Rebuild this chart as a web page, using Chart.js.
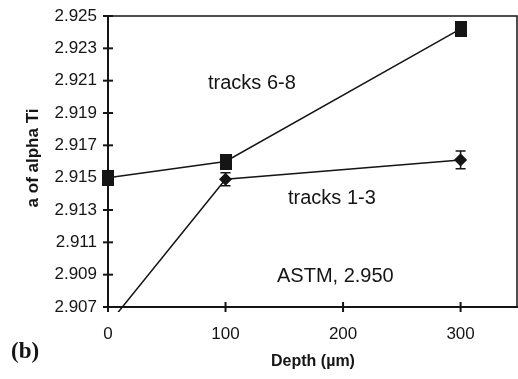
<!DOCTYPE html>
<html>
<head>
<meta charset="utf-8">
<script src="https://cdn.jsdelivr.net/npm/chart.js@4.4.1/dist/chart.umd.min.js"></script>
<style>
  html, body { margin: 0; padding: 0; background: #fff; }
  #wrap { width: 518px; height: 379px; }
</style>
</head>
<body>
<div id="wrap"><canvas id="chart" width="518" height="379"></canvas></div>
<script>
// data
const depth = [0, 100, 300];
const tracks68 = [2.915, 2.916, 2.9242];
const tracks13 = [2.9059, 2.9149, 2.9161];
const err13 = [0, 0.0004, 0.00055];
const xTicks = [0, 100, 200, 300];
const yTicks = [2.907, 2.909, 2.911, 2.913, 2.915, 2.917, 2.919, 2.921, 2.923, 2.925];

const ink = '#151515';

// square marker a bit taller than wide, like the scan
function squareMarker() {
  const c = document.createElement('canvas');
  c.width = 12; c.height = 16;
  const g = c.getContext('2d');
  g.fillStyle = ink;
  g.fillRect(0, 0, 12, 16);
  return c;
}

// cross ticks, frame, error bars and labels
const extras = {
  id: 'extras',
  afterDatasetsDraw(chart) {
    const { ctx, chartArea: a, scales: { x, y } } = chart;
    ctx.save();
    ctx.strokeStyle = ink;
    ctx.lineWidth = 1.5;
    // top and right frame
    ctx.beginPath();
    ctx.moveTo(a.left, a.top);
    ctx.lineTo(a.right, a.top);
    ctx.lineTo(a.right, a.bottom);
    ctx.stroke();

    ctx.lineWidth = 2;
    yTicks.forEach(v => {
      const py = y.getPixelForValue(v);
      ctx.beginPath();
      ctx.moveTo(a.left - 5, py);
      ctx.lineTo(a.left + 5, py);
      ctx.stroke();
    });
    xTicks.forEach(v => {
      const px = x.getPixelForValue(v);
      ctx.beginPath();
      ctx.moveTo(px, a.bottom - 5);
      ctx.lineTo(px, a.bottom + 5);
      ctx.stroke();
    });

    // error bars on tracks 1-3
    ctx.lineWidth = 1.5;
    depth.forEach((d, i) => {
      if (!err13[i]) return;
      const px = x.getPixelForValue(d);
      const top = y.getPixelForValue(tracks13[i] + err13[i]);
      const bot = y.getPixelForValue(tracks13[i] - err13[i]);
      ctx.beginPath();
      ctx.moveTo(px, top); ctx.lineTo(px, bot);
      ctx.moveTo(px - 5, top); ctx.lineTo(px + 5, top);
      ctx.moveTo(px - 5, bot); ctx.lineTo(px + 5, bot);
      ctx.stroke();
    });

    ctx.fillStyle = ink;
    ctx.textBaseline = 'middle';
    ctx.textAlign = 'left';
    ctx.font = '20px "Liberation Sans", Arial, sans-serif';
    ctx.fillText('tracks 6-8', 208, 83);
    ctx.fillText('tracks 1-3', 288, 198);
    ctx.fillText('ASTM, 2.950', 277, 276);

    ctx.textAlign = 'center';
    ctx.font = 'bold 16px "Liberation Sans", Arial, sans-serif';
    ctx.fillText('Depth (\u00b5m)', 313, 362);

    ctx.save();
    ctx.translate(33, 158);
    ctx.rotate(-Math.PI / 2);
    ctx.font = 'bold 17px "Liberation Sans", Arial, sans-serif';
    ctx.fillText('a of alpha Ti', 0, 0);
    ctx.restore();

    ctx.textAlign = 'left';
    ctx.font = 'bold 23px "Liberation Serif", "Times New Roman", serif';
    ctx.fillText('(b)', 11, 352);
    ctx.restore();
  }
};

new Chart(document.getElementById('chart'), {
  type: 'line',
  data: {
    datasets: [
      {
        label: 'tracks 6-8',
        data: depth.map((d, i) => ({ x: d, y: tracks68[i] })),
        borderColor: ink,
        borderWidth: 1.5,
        pointStyle: squareMarker(),
        pointBackgroundColor: ink,
        clip: false
      },
      {
        label: 'tracks 1-3',
        data: depth.map((d, i) => ({ x: d, y: tracks13[i] })),
        borderColor: ink,
        borderWidth: 1.5,
        pointStyle: 'rectRot',
        pointRadius: [0, 5.5, 5.5],
        pointBackgroundColor: ink,
        pointBorderColor: ink,
        clip: { left: 0, top: 0, right: 0, bottom: 5 }
      }
    ]
  },
  options: {
    responsive: false,
    animation: false,
    devicePixelRatio: 1,
    layout: { autoPadding: false, padding: { top: 16, right: 1, left: 0, bottom: 0 } },
    plugins: { legend: { display: false }, tooltip: { enabled: false } },
    scales: {
      x: {
        type: 'linear',
        min: 0,
        max: 348,
        afterBuildTicks: s => { s.ticks = xTicks.map(v => ({ value: v })); },
        afterFit: s => { s.height = 72; s.paddingLeft = 0; s.paddingRight = 0; },
        grid: { display: false, drawTicks: false, tickLength: 0 },
        border: { display: true, color: ink, width: 2 },
        ticks: {
          padding: 17,
          color: ink,
          font: { family: '"Liberation Sans", Arial, sans-serif', size: 17 }
        }
      },
      y: {
        min: 2.907,
        max: 2.925,
        afterBuildTicks: s => { s.ticks = yTicks.map(v => ({ value: v })); },
        afterFit: s => { s.width = 108; s.paddingTop = 0; s.paddingBottom = 0; },
        grid: { display: false, drawTicks: false, tickLength: 0 },
        border: { display: true, color: ink, width: 2 },
        ticks: {
          padding: 11,
          color: ink,
          callback: v => v.toFixed(3),
          font: { family: '"Liberation Sans", Arial, sans-serif', size: 17 }
        }
      }
    }
  },
  plugins: [extras]
});
</script>
</body>
</html>
